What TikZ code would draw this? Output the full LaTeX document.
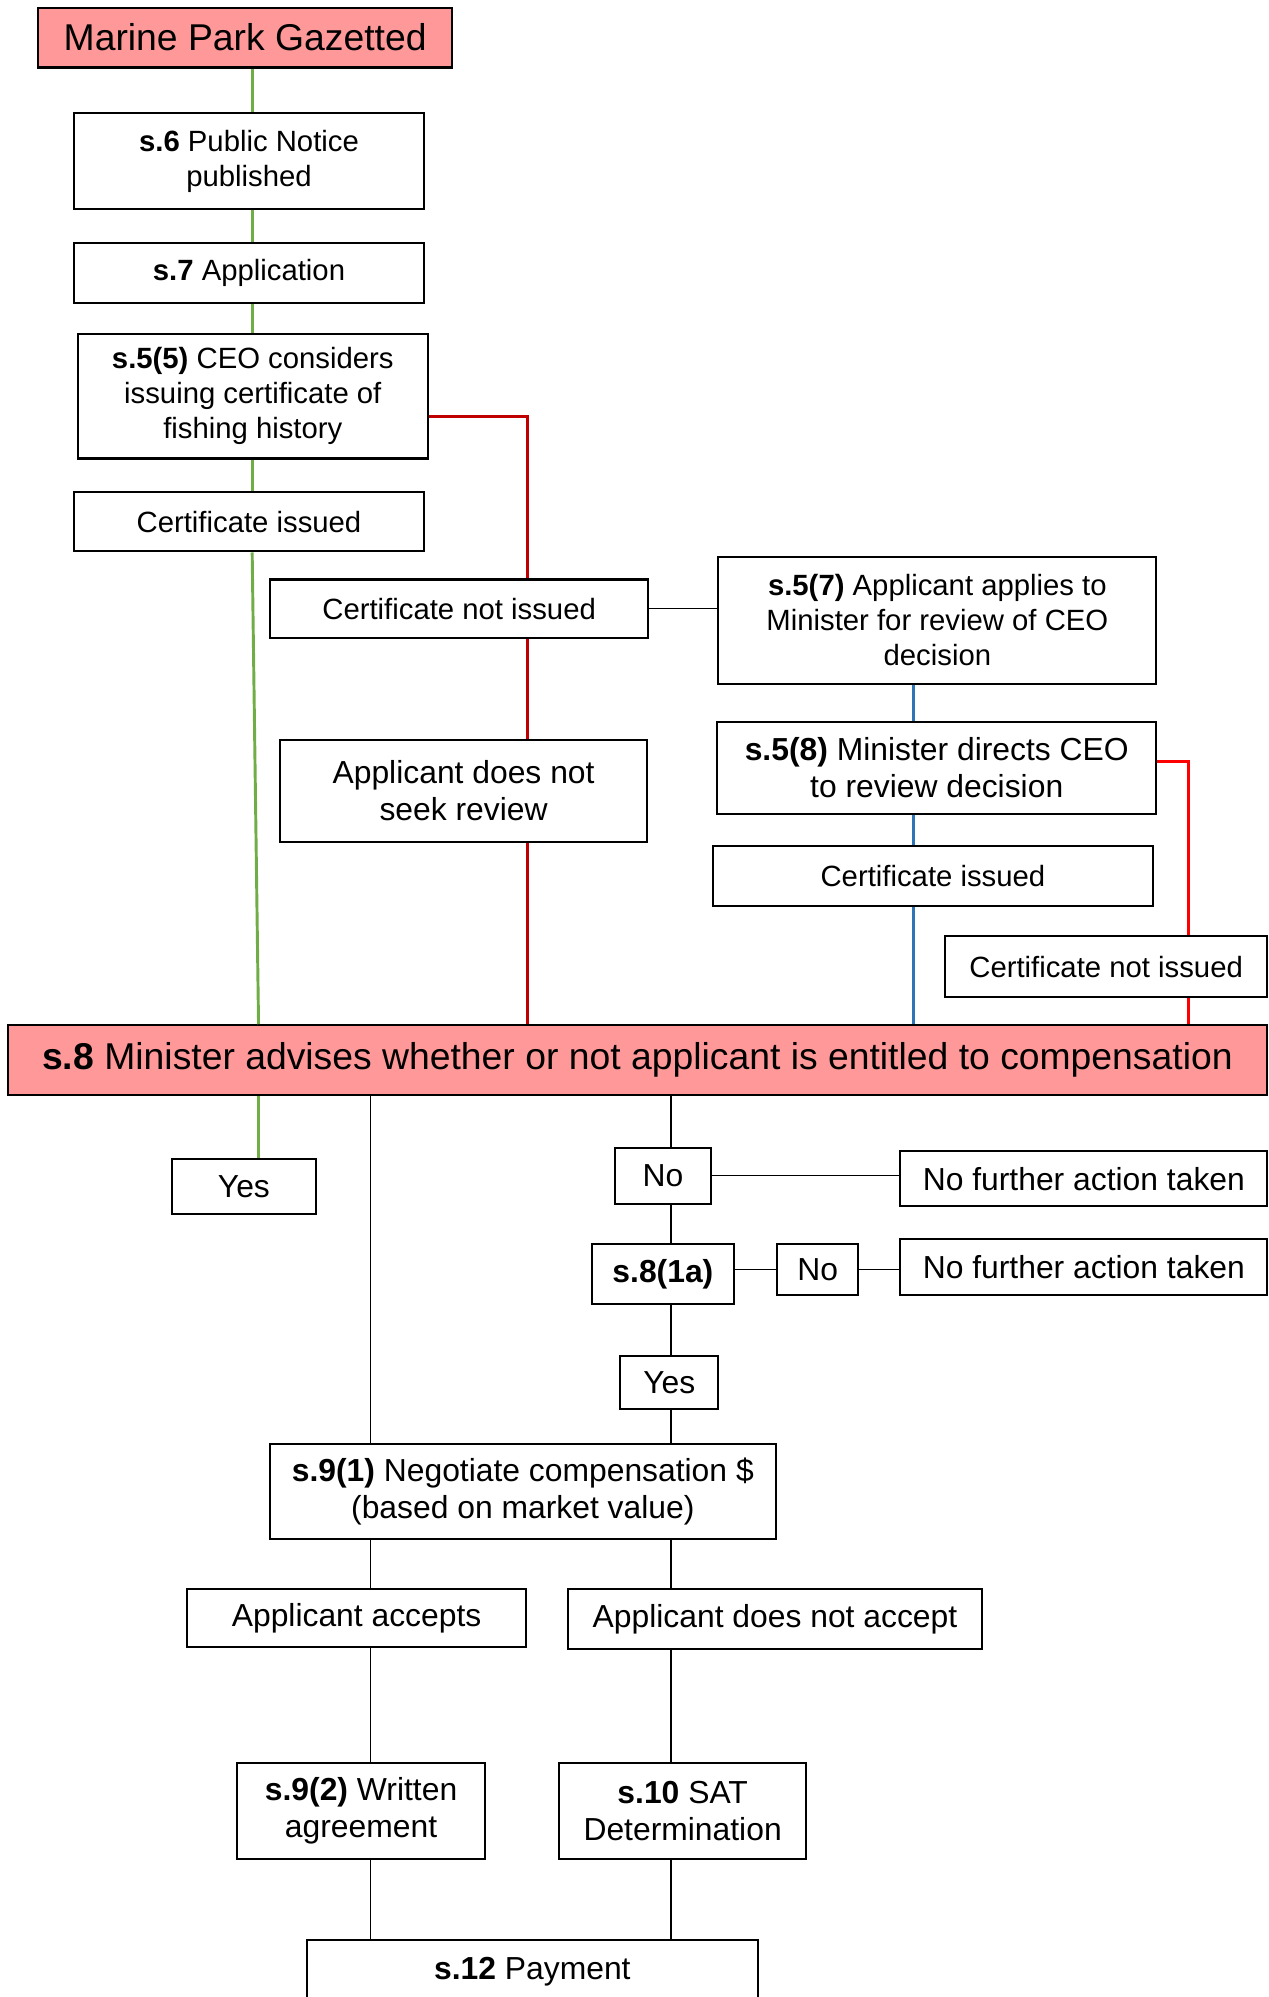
\documentclass[tikz,border=0pt]{standalone}
\usepackage{fontspec}
\setmainfont{Liberation Sans}
\usepackage{xcolor}
\usepackage{tikz}
\usetikzlibrary{positioning, calc}
\definecolor{parkpink}{HTML}{FF9999}
\definecolor{leafgreen}{HTML}{70AD47}
\definecolor{refusered}{HTML}{C00000}
\definecolor{ministerred}{HTML}{FF0000}
\definecolor{reviewblue}{HTML}{2E75B6}
\tikzset{
  stagebox/.style={draw, line width=1.6pt, fill=white, align=center, inner sep=0pt, font=\fontsize{23}{27.5}\selectfont},
  lowbox/.style={stagebox, font=\fontsize{25}{29}\selectfont},
  headbox/.style={stagebox, fill=parkpink, font=\fontsize{29.3}{34}\selectfont},
  greenline/.style={draw=leafgreen, line width=2.3pt},
  redline/.style={draw=refusered, line width=2.3pt},
  brightline/.style={draw=ministerred, line width=2.3pt},
  blueline/.style={draw=reviewblue, line width=2.3pt},
  thinline/.style={draw, line width=1.1pt}
}

\begin{document}
\begin{tikzpicture}[x=1pt, y=-1pt]
  \useasboundingbox (0,0) rectangle (996,1568);

  % lanes for the connectors
  \coordinate (lgreen) at (198,0);
  \coordinate (lgreenlow) at (203,0);
  \coordinate (lred) at (414,0);
  \coordinate (lblue) at (717,0);
  \coordinate (lredB) at (933,0);
  \coordinate (lleft) at (291,0);
  \coordinate (lright) at (527,0);

  % certificate stage
  \node[headbox, minimum width=325, minimum height=47] (gazette) at (192.5,29.5) {Marine Park Gazetted};
  \node[stagebox, minimum width=275, minimum height=75] (pubnotice) at (195.5,126.5) {\textbf{s.6} Public Notice\\published};
  \node[stagebox, minimum width=275, minimum height=47] (appl) at (195.5,214.5) {\textbf{s.7} Application};
  \node[stagebox, minimum width=275, minimum height=98] (ceo) at (198.5,311) {\textbf{s.5(5)} CEO considers\\issuing certificate of\\fishing history};
  \node[stagebox, minimum width=275, minimum height=47] (certA) at (195.5,409.5) {Certificate issued};
  \node[stagebox, minimum width=297, minimum height=46] (notnoA) at (360.5,478) {Certificate not issued};
  \node[stagebox, minimum width=344, minimum height=100] (review7) at (736,487) {\textbf{s.5(7)} Applicant applies to\\Minister for review of CEO\\decision};
  \node[lowbox, minimum width=288, minimum height=80] (noreview) at (364,621) {Applicant does not\\seek review};
  \node[lowbox, minimum width=345, minimum height=72] (direct8) at (735.5,603) {\textbf{s.5(8)} Minister directs CEO\\to review decision};
  \node[stagebox, minimum width=345, minimum height=47] (certB) at (732.5,687.5) {Certificate issued};
  \node[stagebox, minimum width=253, minimum height=48] (notnoB) at (868.5,759) {Certificate not issued};

  % minister advice
  \node[headbox, minimum width=989, minimum height=55] (advise) at (500.5,832.5) {\textbf{s.8} Minister advises whether or not applicant is entitled to compensation};

  % compensation stage
  \node[lowbox, minimum width=113, minimum height=43] (yesA) at (191.5,931.5) {Yes};
  \node[lowbox, minimum width=75, minimum height=44] (noA) at (520.5,923) {No};
  \node[lowbox, minimum width=288, minimum height=43] (nfaA) at (851,925.5) {No further action taken};
  \node[lowbox, minimum width=111, minimum height=47] (s81a) at (520.5,1000.5) {\textbf{s.8(1a)}};
  \node[lowbox, minimum width=64, minimum height=40] (noB) at (642,997) {No};
  \node[lowbox, minimum width=288, minimum height=44] (nfaB) at (851,995) {No further action taken};
  \node[lowbox, minimum width=77, minimum height=41] (yesB) at (525.5,1085.5) {Yes};
  \node[lowbox, minimum width=397, minimum height=74] (negotiate) at (410.5,1171) {\textbf{s.9(1)} Negotiate compensation \$\\(based on market value)};
  \node[lowbox, minimum width=266, minimum height=45] (accepts) at (280,1270.5) {Applicant accepts};
  \node[lowbox, minimum width=325, minimum height=47] (declines) at (608.5,1271.5) {Applicant does not accept};
  \node[lowbox, minimum width=195, minimum height=76] (agreement) at (283.5,1422) {\textbf{s.9(2)} Written\\agreement};
  \node[lowbox, minimum width=194, minimum height=76] (sat) at (536,1422) {\textbf{s.10} SAT\\Determination};
  \node[lowbox, minimum width=354, minimum height=50] (payment) at (418,1548) {\textbf{s.12} Payment};

  % certificate issued path
  \draw[greenline] (gazette.south -| lgreen) -- (pubnotice.north -| lgreen);
  \draw[greenline] (pubnotice.south -| lgreen) -- (appl.north -| lgreen);
  \draw[greenline] (appl.south -| lgreen) -- (ceo.north -| lgreen);
  \draw[greenline] (ceo.south -| lgreen) -- (certA.north -| lgreen);
  \draw[greenline] (certA.south -| lgreen) -- (advise.north -| lgreenlow);
  \draw[greenline] (advise.south -| lgreenlow) -- (yesA.north -| lgreenlow);

  % certificate refused path
  \draw[redline] ([yshift=-16pt]ceo.east) -| (notnoA.north -| lred);
  \draw[redline] (notnoA.south -| lred) -- (noreview.north -| lred);
  \draw[redline] (noreview.south -| lred) -- (advise.north -| lred);
  \draw[thinline] (notnoA.east) -- (notnoA.east -| review7.west);

  % review path
  \draw[blueline] (review7.south -| lblue) -- (direct8.north -| lblue);
  \draw[blueline] (direct8.south -| lblue) -- (certB.north -| lblue);
  \draw[blueline] (certB.south -| lblue) -- (advise.north -| lblue);
  \draw[brightline] ([yshift=5pt]direct8.east) -| (notnoB.north -| lredB);
  \draw[brightline] (notnoB.south -| lredB) -- (advise.north -| lredB);

  % compensation connectors
  \draw[thinline] (advise.south -| lleft) -- (negotiate.north -| lleft);
  \draw[thinline] (advise.south -| lright) -- (noA.north -| lright);
  \draw[thinline] (noA.east) -- (noA.east -| nfaA.west);
  \draw[thinline] (noA.south -| lright) -- (s81a.north -| lright);
  \draw[thinline] (noB.west -| s81a.east) -- (noB.west);
  \draw[thinline] (noB.east) -- (noB.east -| nfaB.west);
  \draw[thinline] (s81a.south -| lright) -- (yesB.north -| lright);
  \draw[thinline] (yesB.south -| lright) -- (negotiate.north -| lright);
  \draw[thinline] (negotiate.south -| lleft) -- (accepts.north -| lleft);
  \draw[thinline] (negotiate.south -| lright) -- (declines.north -| lright);
  \draw[thinline] (accepts.south -| lleft) -- (agreement.north -| lleft);
  \draw[thinline] (declines.south -| lright) -- (sat.north -| lright);
  \draw[thinline] (agreement.south -| lleft) -- (payment.north -| lleft);
  \draw[thinline] (sat.south -| lright) -- (payment.north -| lright);
\end{tikzpicture}
\end{document}
